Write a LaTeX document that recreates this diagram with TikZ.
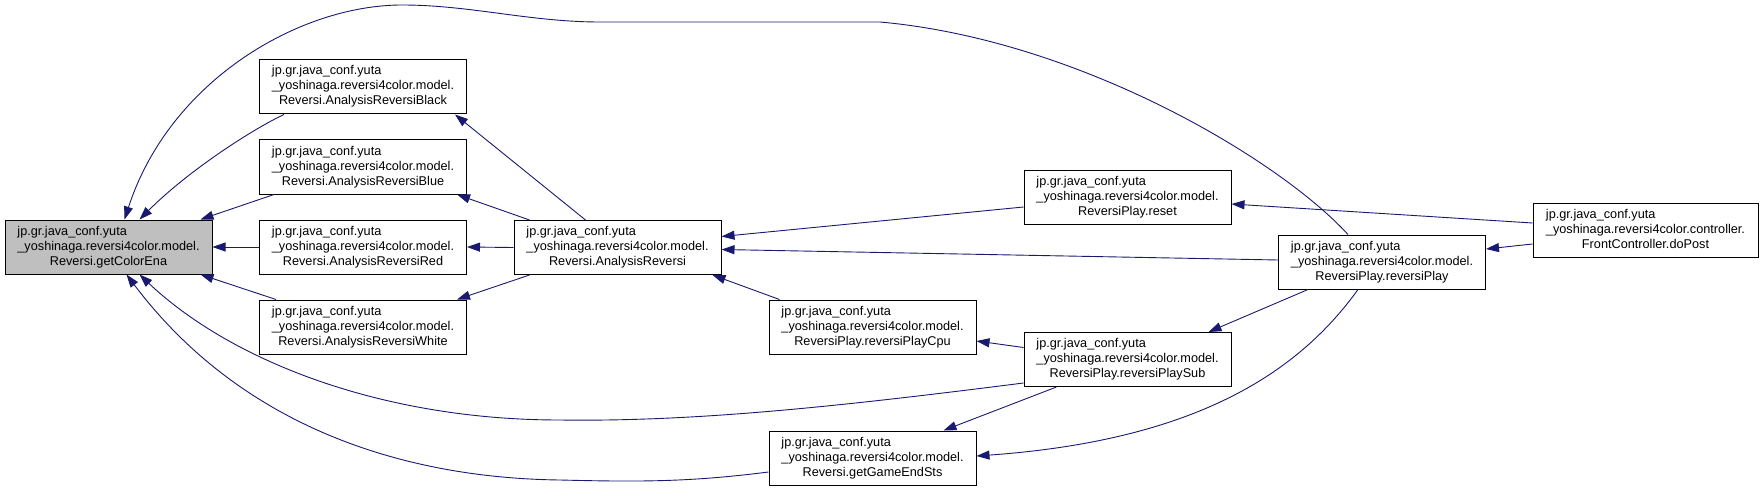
\documentclass[tikz,border=0pt]{standalone}
\usepackage{fontspec}
\setmainfont{Liberation Sans}
\usetikzlibrary{arrows.meta,calc}
\definecolor{edgecol}{HTML}{191970}
\definecolor{hilite}{HTML}{BFBFBF}
\newcommand{\dlbl}[3]{\begin{tabular}{@{}l@{}}#1\\#2\\\multicolumn{1}{@{}c@{}}{#3}\end{tabular}}
\tikzset{
  fbox/.style={draw=black, fill=white, rectangle, minimum width=207pt, minimum height=54pt,
    inner sep=0pt, line width=1pt, font=\fontsize{12.7}{15}\selectfont},
  hbox/.style={fbox, fill=hilite},
  edge/.style={draw=edgecol, line width=0.9pt,
    -{Triangle[length=13pt,width=9pt,fill=edgecol]}},
}
\begin{document}
\begin{tikzpicture}[x=1pt,y=-1pt]
\useasboundingbox (0,0) rectangle (1764,492);
\node[hbox] (gce) at (108.5,247) {\dlbl{jp.gr.java\_conf.yuta}{\_yoshinaga.reversi4color.model.}{Reversi.getColorEna}};
\node[fbox] (black) at (363,87) {\dlbl{jp.gr.java\_conf.yuta}{\_yoshinaga.reversi4color.model.}{Reversi.AnalysisReversiBlack}};
\node[fbox] (blue) at (363,167) {\dlbl{jp.gr.java\_conf.yuta}{\_yoshinaga.reversi4color.model.}{Reversi.AnalysisReversiBlue}};
\node[fbox] (red) at (363,247) {\dlbl{jp.gr.java\_conf.yuta}{\_yoshinaga.reversi4color.model.}{Reversi.AnalysisReversiRed}};
\node[fbox] (white) at (363,327) {\dlbl{jp.gr.java\_conf.yuta}{\_yoshinaga.reversi4color.model.}{Reversi.AnalysisReversiWhite}};
\node[fbox] (ar) at (617.5,247.5) {\dlbl{jp.gr.java\_conf.yuta}{\_yoshinaga.reversi4color.model.}{Reversi.AnalysisReversi}};
\node[fbox] (cpu) at (872.5,327) {\dlbl{jp.gr.java\_conf.yuta}{\_yoshinaga.reversi4color.model.}{ReversiPlay.reversiPlayCpu}};
\node[fbox] (ges) at (872.5,458) {\dlbl{jp.gr.java\_conf.yuta}{\_yoshinaga.reversi4color.model.}{Reversi.getGameEndSts}};
\node[fbox] (reset) at (1127.5,197) {\dlbl{jp.gr.java\_conf.yuta}{\_yoshinaga.reversi4color.model.}{ReversiPlay.reset}};
\node[fbox] (sub) at (1127.5,359.5) {\dlbl{jp.gr.java\_conf.yuta}{\_yoshinaga.reversi4color.model.}{ReversiPlay.reversiPlaySub}};
\node[fbox] (rp) at (1382,262) {\dlbl{jp.gr.java\_conf.yuta}{\_yoshinaga.reversi4color.model.}{ReversiPlay.reversiPlay}};
\node[fbox, minimum width=225pt] (dopost) at (1645.5,230) {\dlbl{jp.gr.java\_conf.yuta}{\_yoshinaga.reversi4color.controller.}{FrontController.doPost}};

% callers of getColorEna
\draw[edge] ($(black.south west)+(25,0)$) .. controls +(-30,14) and +(50,-50) .. ($(gce.north west)+(135,0)$);
\draw[edge] ($(blue.south west)+(15,0)$) -- ($(gce.north east)+(-12,0)$);
\draw[edge] (red.west) -- (gce.east);
\draw[edge] ($(white.north west)+(17,0)$) -- ($(gce.south east)+(-12,0)$);
\draw[edge] ($(sub.south west)+(0,-4)$) .. controls (850,405) and (700,422) .. (560,420)
  .. controls (380,420) and (230,360) .. ($(gce.south west)+(135,0)$);
\draw[edge] ($(ges.west)+(0,14)$) .. controls (690,482) and (640,482) .. (560,480)
  .. controls (400,478) and (240,425) .. ($(gce.south west)+(122,0)$);
\draw[edge] ($(rp.north west)+(70,0)$) .. controls (1280,160) and (1080,40) .. (880,22)
  -- (600,22) .. controls (530,22) and (470,5) .. (402,5)
  .. controls (300,5) and (170,80) .. ($(gce.north west)+(120,0)$);

% AnalysisReversi to colour variants
\draw[edge] ($(ar.north west)+(72,0)$) -- ($(black.south east)+(-12,0)$);
\draw[edge] ($(ar.north west)+(16,0)$) -- ($(blue.south east)+(-10,0)$);
\draw[edge] (ar.west) -- (red.east);
\draw[edge] ($(ar.south west)+(16,0)$) -- ($(white.north east)+(-10,0)$);

% callers of AnalysisReversi
\draw[edge] ($(reset.west)+(0,10)$) -- ($(ar.east)+(0,-11)$);
\draw[edge] ($(rp.west)+(0,-2)$) -- ($(ar.east)+(0,2)$);
\draw[edge] ($(cpu.north west)+(11,0)$) -- ($(ar.south east)+(-9,0)$);

% doPost
\draw[edge] ($(dopost.west)+(0,-7)$) -- ($(reset.east)+(0,7)$);
\draw[edge] ($(dopost.west)+(0,14)$) -- ($(rp.east)+(0,-13)$);

% reversiPlay / reversiPlaySub
\draw[edge] ($(sub.west)+(0,-12)$) -- ($(cpu.east)+(0,14)$);
\draw[edge] ($(rp.south west)+(30,0)$) -- ($(sub.north east)+(-23,0)$);
\draw[edge] ($(sub.south west)+(33,0)$) -- ($(ges.north east)+(-33,0)$);
\draw[edge] ($(rp.south west)+(80,0)$) .. controls (1300,370) and (1200,440) .. ($(ges.east)+(0,-2)$);
\end{tikzpicture}
\end{document}
